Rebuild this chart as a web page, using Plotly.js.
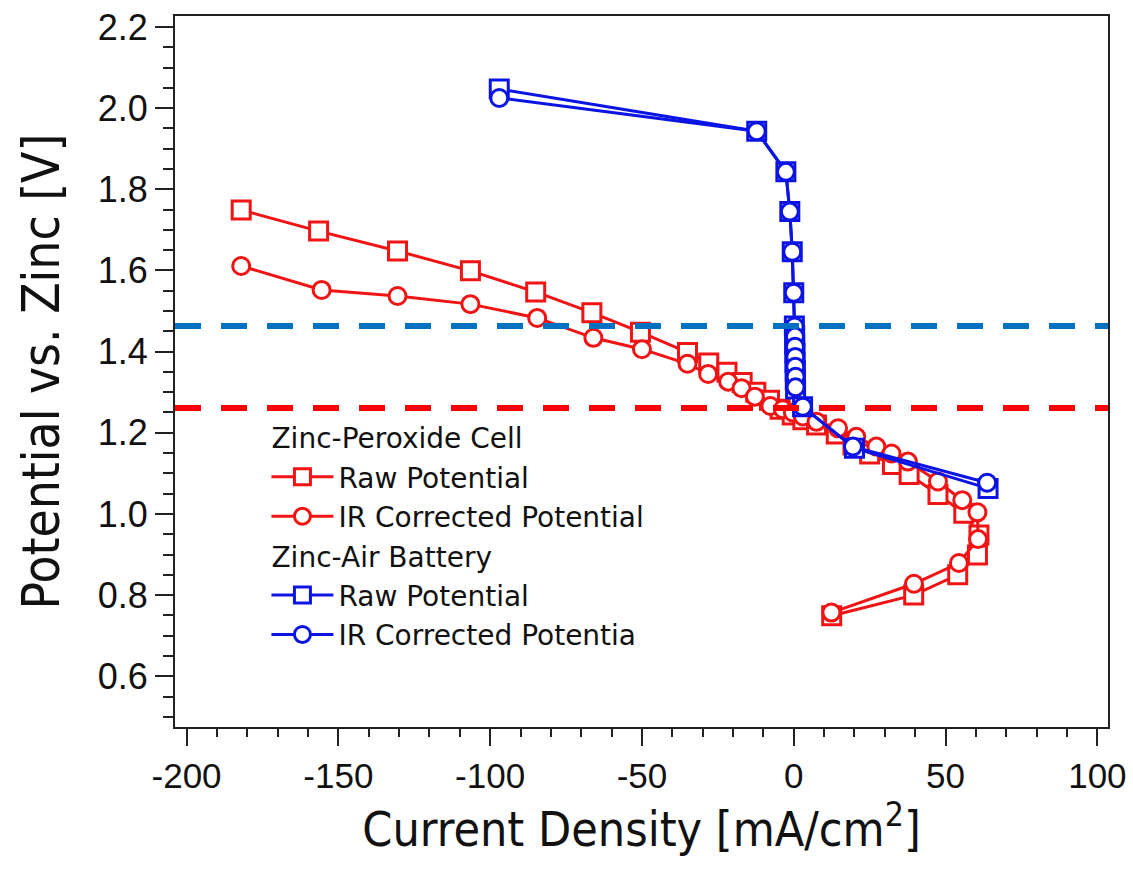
<!DOCTYPE html>
<html>
<head>
<meta charset="utf-8">
<script src="https://cdn.plot.ly/plotly-3.0.1.min.js"></script>
<style>html,body{margin:0;padding:0;background:#fff;}#chart{width:1133px;height:872px;}</style>
</head>
<body>
<div id="chart"></div>
<script>
// Zinc-Peroxide Cell, raw potential (squares)
const xRedRaw = [-182, -156.5, -130.5, -106.5, -85, -66.5, -50.5, -35, -28, -22, -17, -12.5, -8, -4.5, -0.5, 3, 7.5, 14, 19.5, 25, 32.5, 38, 47.5, 56, 61, 60.5, 54, 39.5, 12.5];
const yRedRaw = [1.749, 1.697, 1.648, 1.599, 1.547, 1.496, 1.448, 1.398, 1.372, 1.349, 1.324, 1.300, 1.280, 1.258, 1.244, 1.232, 1.219, 1.197, 1.170, 1.148, 1.122, 1.097, 1.048, 1.002, 0.948, 0.899, 0.850, 0.800, 0.749];
// Zinc-Peroxide Cell, IR corrected potential (circles)
const xRedIR = [-182, -155.5, -130.5, -106.5, -84.5, -66, -50, -35, -28.2, -21.6, -17.2, -12.8, -7.7, -3.6, -0.3, 3.0, 7.5, 14.6, 20.6, 27.2, 32.2, 37.6, 47.5, 55.5, 60.5, 60.7, 54.4, 39.6, 12.4];
const yRedIR = [1.611, 1.552, 1.537, 1.517, 1.483, 1.434, 1.406, 1.370, 1.345, 1.326, 1.310, 1.289, 1.266, 1.258, 1.250, 1.240, 1.227, 1.211, 1.190, 1.166, 1.149, 1.129, 1.080, 1.034, 1.004, 0.938, 0.879, 0.828, 0.757];
// Zinc-Air Battery, raw potential (squares)
const xBlueRaw = [-97, -12.2, -2.6, -1.3, -0.5, 0, 0.2, 0.3, 0.3, 0.4, 0.4, 0.5, 0.5, 0.6, 2.9, 20, 64];
const yBlueRaw = [2.047, 1.943, 1.843, 1.745, 1.646, 1.545, 1.463, 1.440, 1.418, 1.396, 1.374, 1.352, 1.330, 1.308, 1.264, 1.162, 1.063];
// Zinc-Air Battery, IR corrected potential (circles)
const xBlueIR = [-97, -12.2, -2.6, -1.3, -0.5, 0, 0.3, 0.4, 0.4, 0.5, 0.5, 0.6, 0.6, 3, 19.5, 63.7];
const yBlueIR = [2.025, 1.943, 1.843, 1.745, 1.646, 1.545, 1.462, 1.437, 1.412, 1.387, 1.363, 1.338, 1.312, 1.264, 1.166, 1.077];
// Reference potentials (dashed lines)
const refAir = 1.463;
const refPeroxide = 1.261;
// Axis ticks
const xTickVals = [-200, -150, -100, -50, 0, 50, 100];
const xTickLabels = ['-200', '-150', '-100', '-50', '0', '50', '100'];
const yTickVals = [0.6, 0.8, 1.0, 1.2, 1.4, 1.6, 1.8, 2.0, 2.2];
const yTickLabels = ['0.6', '0.8', '1.0', '1.2', '1.4', '1.6', '1.8', '2.0', '2.2'];

const RED = 'rgb(240,20,20)';
const BLUE = 'rgb(12,20,228)';
const FONT = 'Liberation Sans, Arial, sans-serif';
const LEGFONT = 'DejaVu Sans, Liberation Sans, sans-serif';
const NARROW = 'Liberation Sans Narrow, Arial Narrow, DejaVu Sans Condensed, sans-serif';

function trace(x, y, name, color, symbol, size, group, gtitle) {
  const t = {
    x: x, y: y, type: 'scatter', mode: 'lines+markers', name: name,
    legendgroup: group,
    line: {color: color, width: 3},
    marker: {symbol: symbol, size: size, color: 'white', line: {color: color, width: 3}}
  };
  if (gtitle) t.legendgrouptitle = {text: gtitle, font: {family: LEGFONT, size: 28, color: '#111'}};
  return t;
}

const data = [
  trace(xRedRaw, yRedRaw, 'Raw Potential', RED, 'square', 18, 'zp', 'Zinc-Peroxide Cell'),
  trace(xRedIR, yRedIR, 'IR Corrected Potential', RED, 'circle', 17, 'zp'),
  trace(xBlueRaw, yBlueRaw, 'Raw Potential', BLUE, 'square', 18, 'za', 'Zinc-Air Battery'),
  trace(xBlueIR, yBlueIR, 'IR Corrected Potentia', BLUE, 'circle', 17, 'za')
];

const layout = {
  width: 1133, height: 872, autosize: false,
  paper_bgcolor: 'white', plot_bgcolor: 'white',
  margin: {l: 175, r: 25, t: 16, b: 145},
  showlegend: true,
  legend: {
    x: 0.098, y: 0.442, xanchor: 'left', yanchor: 'top',
    bgcolor: 'rgba(0,0,0,0)', borderwidth: 0,
    font: {family: LEGFONT, size: 28, color: '#111'},
    traceorder: 'grouped', tracegroupgap: 0, itemwidth: 62
  },
  xaxis: {
    range: [-203.8, 103.5], zeroline: false, showgrid: false,
    showline: true, linecolor: '#222', linewidth: 2, mirror: true,
    ticks: 'outside', ticklen: 17, tickwidth: 2, tickcolor: '#222',
    tickmode: 'array', tickvals: xTickVals, ticktext: xTickLabels,
    tickfont: {family: FONT, size: 35, color: '#111'},
    minor: {dtick: 10, tick0: 0, ticks: 'outside', ticklen: 8, tickwidth: 2, tickcolor: '#222'},
    title: {text: 'Current Density [mA/cm<sup>2</sup>]', font: {family: NARROW, size: 48, color: '#111'}, standoff: 14}
  },
  yaxis: {
    range: [0.475, 2.227], zeroline: false, showgrid: false,
    showline: true, linecolor: '#222', linewidth: 2, mirror: true,
    ticks: 'outside', ticklen: 18, tickwidth: 2, tickcolor: '#222',
    tickmode: 'array', tickvals: yTickVals, ticktext: yTickLabels,
    tickfont: {family: FONT, size: 36, color: '#111'},
    minor: {dtick: 0.05, tick0: 0, ticks: 'outside', ticklen: 10, tickwidth: 2, tickcolor: '#222'},
    title: {text: 'Potential vs. Zinc [V]', font: {family: NARROW, size: 51, color: '#111'}, standoff: 22}
  },
  shapes: [
    {type: 'line', xref: 'paper', x0: 0, x1: 1, yref: 'y', y0: refAir, y1: refAir, layer: 'above',
     line: {color: 'rgb(0,112,192)', width: 6, dash: '26px,20px'}},
    {type: 'line', xref: 'paper', x0: 0, x1: 1, yref: 'y', y0: refPeroxide, y1: refPeroxide, layer: 'above',
     line: {color: 'rgb(255,0,0)', width: 6, dash: '26px,20px'}}
  ]
};

Plotly.newPlot('chart', data, layout, {displayModeBar: false, staticPlot: true});
</script>
</body>
</html>
